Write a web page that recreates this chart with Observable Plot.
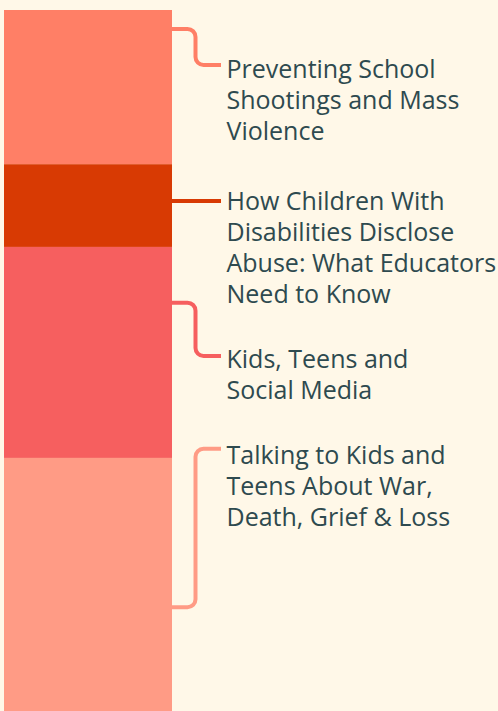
<!DOCTYPE html>
<html>
<head>
<meta charset="utf-8">
<script src="https://cdn.jsdelivr.net/npm/d3@7"></script>
<script src="https://cdn.jsdelivr.net/npm/@observablehq/plot@0.6"></script>
<style>
  html, body { margin: 0; padding: 0; background: #FFF8E8; }
  #chart svg { display: block; }
</style>
</head>
<body>
<div id="chart"></div>
<script>
// Topics (top to bottom of the stacked bar)
const topics = [
  "Preventing School\nShootings and Mass\nViolence",
  "How Children With\nDisabilities Disclose\nAbuse: What Educators\nNeed to Know",
  "Kids, Teens and\nSocial Media",
  "Talking to Kids and\nTeens About War,\nDeath, Grief & Loss"
];
// Share of each topic (percent)
const shares = [22, 11.8, 30.1, 36.1];
const colors = ["#FF7F66", "#D83A03", "#F65F5F", "#FF9B85"];
// Annotation anchors, in the same percent units as the bar
const barAnchor = [2.7, 27.25, 41.75, 85.2];   // where the leader leaves the bar
const labelAnchor = [7.85, 27.25, 49.35, 62.6]; // where the leader reaches the label
const labelTop = [7.1, 25.95, 48.4, 62.15];     // top of first text line

const data = topics.map((t, i) => ({
  topic: t, value: shares[i], color: colors[i],
  a: barAnchor[i], b: labelAnchor[i], top: labelTop[i]
}));

const W = 498, H = 711;
const gap = 49;     // horizontal distance bar edge -> label
const textPad = 5;
const radius = 8;

function leaders(index, scales) {
  const x = scales.x, y = scales.y;
  const g = d3.create("svg:g");
  const x0 = x(1);
  for (const d of data) {
    const ya = y(d.a), yb = y(d.b);
    const x1 = x0 + gap;
    const xm = x0 + gap / 2 - 1;
    const p = d3.path();
    p.moveTo(x0, ya);
    if (Math.abs(yb - ya) < 1) {
      p.lineTo(x1, yb);
    } else {
      const s = yb > ya ? 1 : -1;
      const r = Math.min(radius, Math.abs(yb - ya) / 2);
      p.lineTo(xm - r, ya);
      p.arcTo(xm, ya, xm, ya + s * r, r);
      p.lineTo(xm, yb - s * r);
      p.arcTo(xm, yb, xm + r, yb, r);
      p.lineTo(x1, yb);
    }
    g.append("path")
      .attr("d", p.toString())
      .attr("fill", "none")
      .attr("stroke", d.color)
      .attr("stroke-width", 4);
  }
  return g.node();
}

const chart = Plot.plot({
  width: W,
  height: H,
  margin: 0,
  style: { background: "#FFF8E8", fontFamily: "'Open Sans', sans-serif" },
  x: { domain: [0, 1], range: [4, 172], axis: null },
  y: { domain: [0, 100], range: [10, 711], axis: null },
  marks: [
    Plot.rectY(data, { x1: () => 0, x2: () => 1, y: "value", fill: "color" }),
    leaders,
    Plot.text(data, {
      x: () => 1,
      y: "top",
      text: "topic",
      dx: gap + textPad,
      dy: -4,
      textAnchor: "start",
      lineAnchor: "top",
      lineHeight: 1.24,
      fontSize: 25,
      fill: "#2E4A4F"
    })
  ]
});
document.getElementById("chart").append(chart);
</script>
</body>
</html>
